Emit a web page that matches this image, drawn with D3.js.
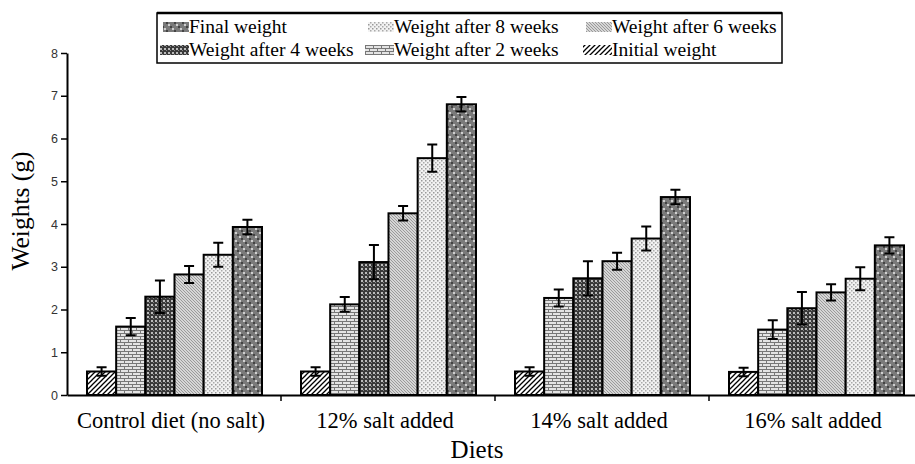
<!DOCTYPE html>
<html><head><meta charset="utf-8">
<script src="https://cdn.jsdelivr.net/npm/d3@7"></script>
<style>body{margin:0;background:#fff}svg{display:block}</style>
</head><body><svg id="c" width="915" height="464"></svg>
<script>
const categories = ["Control diet (no salt)", "12% salt added", "14% salt added", "16% salt added"];
const seriesNames = ["Initial weight", "Weight after 2 weeks", "Weight after 4 weeks", "Weight after 6 weeks", "Weight after 8 weeks", "Final weight"];
const initialWeight = [0.55, 0.55, 0.55, 0.54];
const week2 = [1.6, 2.12, 2.27, 1.53];
const week4 = [2.3, 3.11, 2.73, 2.03];
const week6 = [2.82, 4.25, 3.13, 2.4];
const week8 = [3.28, 5.54, 3.66, 2.72];
const finalWeight = [3.93, 6.8, 4.63, 3.5];
const errInitial = [0.1, 0.1, 0.1, 0.1];
const errW2 = [0.2, 0.17, 0.2, 0.22];
const errW4 = [0.38, 0.4, 0.4, 0.38];
const errW6 = [0.2, 0.17, 0.2, 0.19];
const errW8 = [0.28, 0.32, 0.28, 0.27];
const errFinal = [0.17, 0.17, 0.17, 0.19];
const yTicks = [0, 1, 2, 3, 4, 5, 6, 7, 8];
const legendOrder = ["Final weight", "Weight after 8 weeks", "Weight after 6 weeks", "Weight after 4 weeks", "Weight after 2 weeks", "Initial weight"];

const values = [initialWeight, week2, week4, week6, week8, finalWeight];
const errors = [errInitial, errW2, errW4, errW6, errW8, errFinal];
const patIds = ["p0", "p1", "p2", "p3", "p4", "p5"];
const serif = "'Liberation Serif', 'Times New Roman', serif";

const svg = d3.select("#c");
const defs = svg.append("defs");
function pat(id, w, h, bg, draw) {
  const p = defs.append("pattern").attr("id", id).attr("patternUnits", "userSpaceOnUse").attr("width", w).attr("height", h);
  p.append("rect").attr("width", w).attr("height", h).attr("fill", bg);
  draw(p);
}
pat("p0", 5, 5, "#fff", p => {
  p.append("path").attr("d", "M-1,6 L6,-1 M-1,1 L1,-1 M4,6 L6,4").attr("stroke", "#000").attr("stroke-width", 1.3);
});
pat("p1", 8, 6, "#e4e4e4", p => {
  p.append("path").attr("d", "M0,0.5 H8 M0,3.5 H8 M1.5,0.5 V3.5 M5.5,3.5 V6.5").attr("stroke", "#777").attr("stroke-width", 1);
});
pat("p2", 4, 4, "#3a3a3a", p => {
  p.append("rect").attr("x", 0).attr("y", 0).attr("width", 2).attr("height", 2).attr("fill", "#bbb");
  p.append("rect").attr("x", 2).attr("y", 2).attr("width", 1).attr("height", 1).attr("fill", "#888");
});
pat("p3", 3, 3, "#d6d6d6", p => {
  p.append("path").attr("d", "M0,0 L3,3 M-1,2 L1,4 M2,-1 L4,1").attr("stroke", "#8a8a8a").attr("stroke-width", 0.8);
});
pat("p4", 4, 4, "#f2f2f2", p => {
  p.append("rect").attr("x", 0).attr("y", 0).attr("width", 1.5).attr("height", 1.5).attr("fill", "#999");
  p.append("rect").attr("x", 2).attr("y", 2).attr("width", 1.5).attr("height", 1.5).attr("fill", "#aaa");
});
pat("p5", 8, 8, "#7a7a7a", p => {
  p.append("rect").attr("x", 0).attr("y", 0).attr("width", 2).attr("height", 2).attr("fill", "#d0d0d0");
  p.append("rect").attr("x", 4).attr("y", 4).attr("width", 2).attr("height", 2).attr("fill", "#d0d0d0");
  p.append("rect").attr("x", 2).attr("y", 2).attr("width", 2).attr("height", 2).attr("fill", "#444");
  p.append("rect").attr("x", 6).attr("y", 6).attr("width", 2).attr("height", 2).attr("fill", "#444");
});

const mLeft = 67, mRight = 923, mTop = 53, mBottom = 395;
const x0 = d3.scaleBand().domain(categories).range([mLeft, mRight]).padding(0);
const x1 = d3.scaleBand().domain(seriesNames).range([20, 20 + 175]).padding(0);
const y = d3.scaleLinear().domain([0, 8]).range([mBottom, mTop]);

categories.forEach((cat, ci) => {
  const g = svg.append("g").attr("transform", `translate(${x0(cat)},0)`);
  seriesNames.forEach((s, si) => {
    const v = values[si][ci], e = errors[si][ci];
    const bx = x1(s), bw = x1.bandwidth();
    g.append("rect").attr("x", bx).attr("y", y(v)).attr("width", bw).attr("height", y(0) - y(v))
      .attr("fill", `url(#${patIds[si]})`).attr("stroke", "#000").attr("stroke-width", 2);
    const cx = bx + bw / 2;
    g.append("path").attr("d", `M${cx},${y(v + e)} V${y(v - e)} M${cx - 5},${y(v + e)} H${cx + 5} M${cx - 5},${y(v - e)} H${cx + 5}`)
      .attr("stroke", "#000").attr("stroke-width", 2).attr("fill", "none");
  });
});

const yAxis = svg.append("g").attr("transform", `translate(${mLeft},0)`)
  .call(d3.axisLeft(y).tickValues(yTicks).tickSize(6).tickSizeOuter(0).tickFormat(d3.format("d")));
yAxis.select(".domain").attr("stroke-width", 2);
yAxis.selectAll(".tick line").attr("stroke-width", 1.5);
yAxis.selectAll("text").attr("font-family", "'Liberation Sans', Arial, sans-serif").attr("font-size", 12.5).attr("fill", "#333");

const xAxis = svg.append("g").attr("transform", `translate(0,${mBottom})`)
  .call(d3.axisBottom(x0).tickValues([]).tickSizeOuter(0));
xAxis.select(".domain").attr("stroke-width", 2);
categories.slice(1).forEach(c => {
  xAxis.append("line").attr("x1", x0(c)).attr("x2", x0(c)).attr("y1", 0).attr("y2", 6).attr("stroke", "#000").attr("stroke-width", 1.5);
});
categories.forEach(c => {
  xAxis.append("text").attr("x", x0(c) + x0.bandwidth() / 2 - 3).attr("y", 33).attr("text-anchor", "middle")
    .attr("font-family", serif).attr("font-size", 22.5).attr("fill", "#000").text(c);
});

svg.append("text").attr("x", 477).attr("y", 458).attr("text-anchor", "middle")
  .attr("font-family", serif).attr("font-size", 25).text("Diets");
svg.append("text").attr("transform", `translate(29,211) rotate(-90)`).attr("text-anchor", "middle")
  .attr("font-family", serif).attr("font-size", 25.5).text("Weights (g)");

const lg = svg.append("g");
lg.append("rect").attr("x", 157).attr("y", 13).attr("width", 625).attr("height", 50).attr("fill", "#fff").attr("stroke", "#000").attr("stroke-width", 1.5);
lg.append("line").attr("x1", 157).attr("x2", 782).attr("y1", 13).attr("y2", 13).attr("stroke", "#000").attr("stroke-width", 2.5);
const colX = [162, 367, 585];
legendOrder.forEach((name, i) => {
  const si = seriesNames.indexOf(name);
  const cx = colX[i % 3], base = i < 3 ? 33 : 56;
  lg.append("rect").attr("x", i < 3 ? cx + 1 : cx - 2).attr("y", base - 11).attr("width", i < 3 ? 26 : 29).attr("height", 10).attr("fill", `url(#${patIds[si]})`);
  lg.append("text").attr("x", cx + 27).attr("y", base).attr("font-family", serif)
    .attr("font-size", 19.5).text(name);
});
</script></body></html>
